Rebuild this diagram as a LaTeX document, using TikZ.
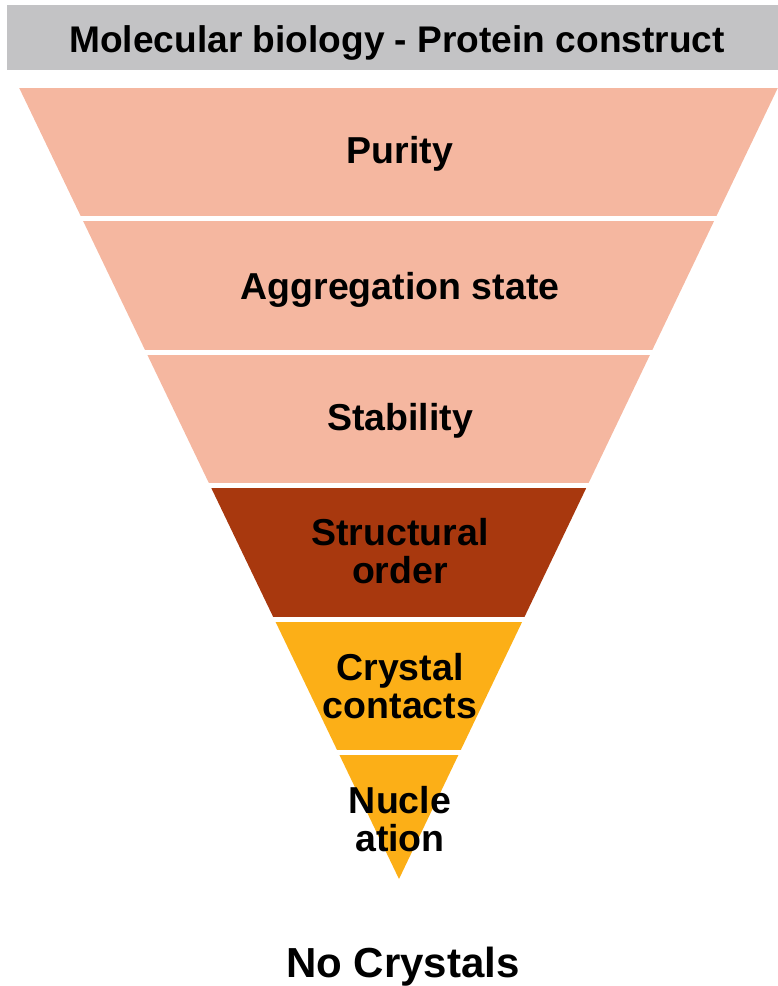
\documentclass[tikz,border=0pt]{standalone}
\usepackage{fontspec}
\setmainfont{Liberation Sans}
\definecolor{titlegray}{RGB}{195,195,197}
\definecolor{salmon}{RGB}{245,183,160}
\definecolor{rust}{RGB}{168,56,14}
\definecolor{amber}{RGB}{252,175,23}
\begin{document}
\begin{tikzpicture}[x=1pt,y=-1pt,
  lbl/.style={inner sep=0pt,anchor=base,align=center,font=\fontsize{37.5}{38}\selectfont\bfseries},
  big/.style={inner sep=0pt,anchor=base,font=\fontsize{42}{46}\selectfont\bfseries}]
\useasboundingbox (0,0) rectangle (778,986);
\fill[titlegray] (7,5) rectangle (778,70);
\node[lbl,font=\fontsize{37.1}{38}\selectfont\bfseries] (title) at (397,52.5) {Molecular biology - Protein construct};
\begin{scope}
  \clip (19,87.5) -- (778,87.5) -- (399,879) -- cycle;
  \fill[salmon] (0,87.5) rectangle (778,216);
  \fill[salmon] (0,221) rectangle (778,349.5);
  \fill[salmon] (0,354.5) rectangle (778,483);
  \fill[rust] (0,488) rectangle (778,616.5);
  \fill[amber] (0,621.5) rectangle (778,750);
  \fill[amber] (0,755) rectangle (778,880);
\end{scope}
\node[lbl] (purity) at (400,163.5) {Purity};
\node[lbl] (aggr) at (400,299) {Aggregation state};
\node[lbl] (stab) at (400,430) {Stability};
\node[lbl] (struct) at (400,583) {Structural\\order};
\node[lbl] (cryst) at (400,718) {Crystal\\contacts};
\node[lbl] (nucl) at (400,851) {Nucle\\ation};
\node[big] (none) at (403,977) {No Crystals};
\end{tikzpicture}
\end{document}
